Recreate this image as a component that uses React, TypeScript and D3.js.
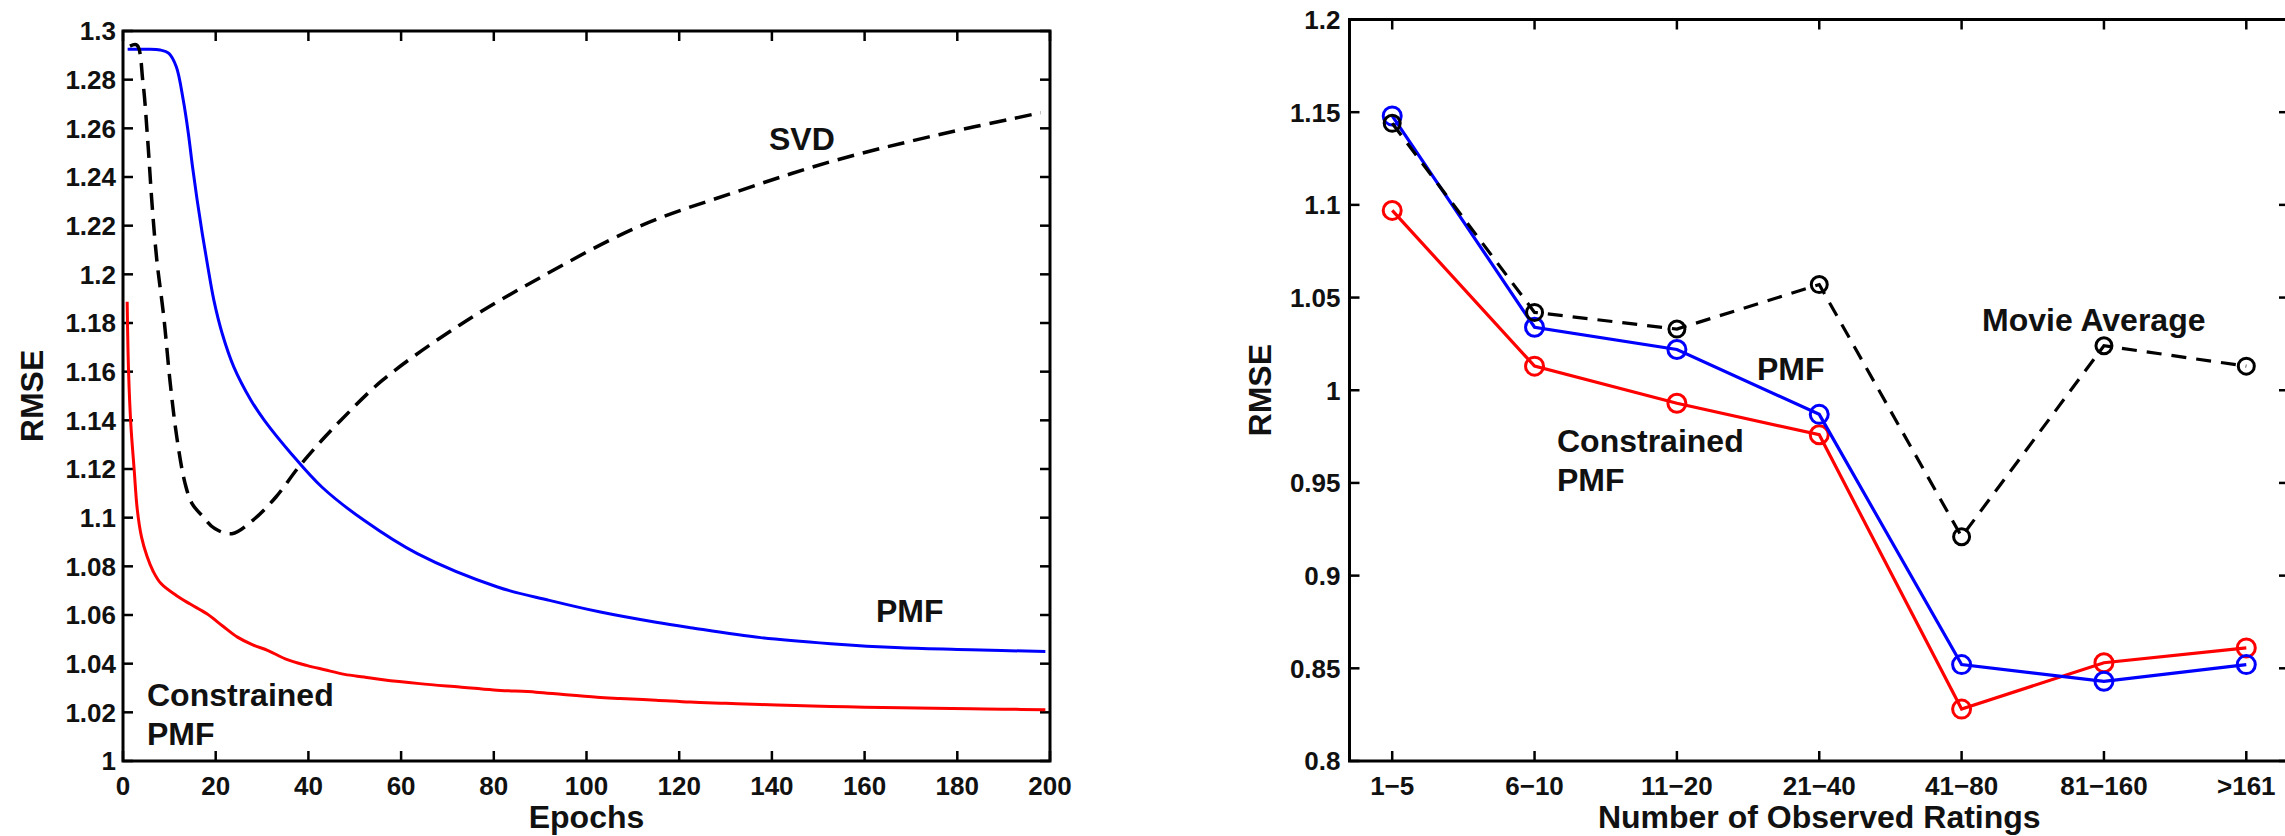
import React from "react";
import * as d3 from "d3";

// ---------- Data: left panel (RMSE vs Epochs) ----------
const pmfEpochs = [1, 5, 8, 9.9, 11.5, 13, 14.1, 15, 16, 17.1, 18.3, 19.6, 21.4, 23.9, 27.6, 30.5, 36.3, 42.9, 52, 63.5, 80.8, 92, 103, 115, 122.4, 137.6, 152.7, 167.8, 182.9, 199];
const pmfRmse = [1.2925, 1.2925, 1.2922, 1.2908, 1.2853, 1.2716, 1.2579, 1.2442, 1.2305, 1.2168, 1.2031, 1.1894, 1.1757, 1.162, 1.1483, 1.14, 1.1263, 1.1126, 1.0989, 1.0852, 1.0715, 1.066, 1.0612, 1.057, 1.0548, 1.0507, 1.0482, 1.0465, 1.0457, 1.045];

const svdEpochs = [1.5, 3, 4.3, 5.3, 6.3, 7.3, 8.8, 10.2, 11.6, 13.4, 14.9, 17.3, 19.8, 23.5, 28, 33, 37.9, 42.9, 47, 56, 72.6, 89, 111.1, 132.3, 152.7, 173.9, 198];
const svdRmse = [1.2938, 1.2942, 1.279, 1.256, 1.228, 1.2058, 1.1825, 1.1551, 1.1332, 1.114, 1.1058, 1.1003, 1.0955, 1.0934, 1.0989, 1.1085, 1.1208, 1.1318, 1.14, 1.1565, 1.1791, 1.1976, 1.2195, 1.2339, 1.2463, 1.2565, 1.2664];

const cpmfEpochs = [0.9, 1.2, 1.7, 2.4, 3.1, 4.0, 5.2, 6.5, 8.2, 11.5, 14.5, 18.1, 21.5, 24.7, 28, 31.3, 35, 39.6, 43.5, 47.8, 52, 56.1, 64, 72.6, 80, 89.1, 95, 102.3, 107.3, 115, 122.4, 130, 137.6, 145, 152.7, 160, 167.8, 175, 182.9, 190, 199];
const cpmfRmse = [1.1887, 1.16, 1.138, 1.12, 1.103, 1.092, 1.084, 1.078, 1.0729, 1.068, 1.0645, 1.0605, 1.0555, 1.0509, 1.0477, 1.0454, 1.042, 1.0393, 1.0375, 1.0356, 1.0345, 1.0334, 1.0318, 1.0304, 1.0292, 1.0283, 1.0273, 1.0262, 1.0257, 1.025, 1.0242, 1.0237, 1.0232, 1.0228, 1.0224, 1.0221, 1.0219, 1.0217, 1.0215, 1.0213, 1.0211];

const leftXTicks = [0, 20, 40, 60, 80, 100, 120, 140, 160, 180, 200];
const leftYTicks = [1, 1.02, 1.04, 1.06, 1.08, 1.1, 1.12, 1.14, 1.16, 1.18, 1.2, 1.22, 1.24, 1.26, 1.28, 1.3];

// ---------- Data: right panel (RMSE vs number of observed ratings) ----------
const categories = ["1\u22125", "6\u221210", "11\u221220", "21\u221240", "41\u221280", "81\u2212160", ">161"];
const pmfByCount = [1.148, 1.034, 1.022, 0.987, 0.852, 0.843, 0.852];
const cpmfByCount = [1.097, 1.013, 0.993, 0.976, 0.828, 0.853, 0.861];
const movieAvgByCount = [1.144, 1.042, 1.033, 1.057, 0.921, 1.024, 1.013];
const rightYTicks = [0.8, 0.85, 0.9, 0.95, 1, 1.05, 1.1, 1.15, 1.2];

// ---------- Layout ----------
const W = 2285;
const H = 836;
const FONT = "'Liberation Sans', Arial, Helvetica, sans-serif";
const TICK_FS = 26;
const LABEL_FS = 32;
const TICK_LEN = 10;
const BLUE = "#0000ff";
const RED = "#ff0000";
const BLACK = "#000000";

const fmt = (d: number) => String(+d.toFixed(2));

function LeftPanel() {
  const x = d3.scaleLinear().domain([0, 200]).range([123, 1050]);
  const y = d3.scaleLinear().domain([1, 1.3]).range([761, 31]);
  const [x0, x1] = x.range();
  const [y0, y1] = y.range();
  const mk = (xs: number[], ys: number[]) =>
    d3
      .line<number>()
      .x((_, i) => x(xs[i]))
      .y((d) => y(d))
      .curve(d3.curveCatmullRom.alpha(0.5))(ys) as string;

  return (
    <g>
      {leftXTicks.map((t) => (
        <g key={"xt" + t}>
          <line x1={x(t)} x2={x(t)} y1={y0} y2={y0 - TICK_LEN} stroke={BLACK} strokeWidth={2.5} />
          <line x1={x(t)} x2={x(t)} y1={y1} y2={y1 + TICK_LEN} stroke={BLACK} strokeWidth={2.5} />
          <text x={x(t)} y={795} textAnchor="middle" fontSize={TICK_FS} fontWeight="bold" fontFamily={FONT} fill="#111">
            {t}
          </text>
        </g>
      ))}
      {leftYTicks.map((t) => (
        <g key={"yt" + t}>
          <line x1={x0} x2={x0 + TICK_LEN} y1={y(t)} y2={y(t)} stroke={BLACK} strokeWidth={2.5} />
          <line x1={x1} x2={x1 - TICK_LEN} y1={y(t)} y2={y(t)} stroke={BLACK} strokeWidth={2.5} />
          <text x={x0 - 7} y={y(t)} dy="0.36em" textAnchor="end" fontSize={TICK_FS} fontWeight="bold" fontFamily={FONT} fill="#111">
            {fmt(t)}
          </text>
        </g>
      ))}
      <path d={mk(pmfEpochs, pmfRmse)} fill="none" stroke={BLUE} strokeWidth={3} />
      <path d={mk(cpmfEpochs, cpmfRmse)} fill="none" stroke={RED} strokeWidth={3} />
      <path d={mk(svdEpochs, svdRmse)} fill="none" stroke={BLACK} strokeWidth={3.5} strokeDasharray="17 9" />
      <rect x={x0} y={y1} width={x1 - x0} height={y0 - y1} fill="none" stroke={BLACK} strokeWidth={3} />
      <g fontSize={LABEL_FS} fontWeight="bold" fontFamily={FONT} fill="#111">
        <text x={769} y={150}>SVD</text>
        <text x={876} y={622}>PMF</text>
        <text x={147} y={706}>Constrained</text>
        <text x={147} y={745}>PMF</text>
        <text x={(x0 + x1) / 2} y={828} textAnchor="middle">Epochs</text>
        <text transform={`translate(43,${(y0 + y1) / 2}) rotate(-90)`} textAnchor="middle">RMSE</text>
      </g>
    </g>
  );
}

function RightPanel() {
  const x = d3.scaleLinear().domain([0.7, 7.3]).range([1349.5, 2289]);
  const y = d3.scaleLinear().domain([0.8, 1.2]).range([761, 19.5]);
  const [x0, x1] = x.range();
  const [y0, y1] = y.range();
  const idx = categories.map((_, i) => i + 1);
  const mk = (ys: number[]) =>
    d3
      .line<number>()
      .x((_, i) => x(idx[i]))
      .y((d) => y(d))(ys) as string;

  const series = [
    { vals: cpmfByCount, color: RED, dash: undefined as string | undefined, r: 9 },
    { vals: pmfByCount, color: BLUE, dash: undefined as string | undefined, r: 9 },
    { vals: movieAvgByCount, color: BLACK, dash: "15 10", r: 8 },
  ];

  return (
    <g>
      {idx.map((p, i) => (
        <g key={"cx" + p}>
          <line x1={x(p)} x2={x(p)} y1={y0} y2={y0 - TICK_LEN} stroke={BLACK} strokeWidth={2.5} />
          <line x1={x(p)} x2={x(p)} y1={y1} y2={y1 + TICK_LEN} stroke={BLACK} strokeWidth={2.5} />
          <text x={x(p)} y={795} textAnchor="middle" fontSize={TICK_FS} fontWeight="bold" fontFamily={FONT} fill="#111">
            {categories[i]}
          </text>
        </g>
      ))}
      {rightYTicks.map((t) => (
        <g key={"ry" + t}>
          <line x1={x0} x2={x0 + TICK_LEN} y1={y(t)} y2={y(t)} stroke={BLACK} strokeWidth={2.5} />
          <line x1={x1} x2={x1 - TICK_LEN} y1={y(t)} y2={y(t)} stroke={BLACK} strokeWidth={2.5} />
          <text x={x0 - 9} y={y(t)} dy="0.36em" textAnchor="end" fontSize={TICK_FS} fontWeight="bold" fontFamily={FONT} fill="#111">
            {fmt(t)}
          </text>
        </g>
      ))}
      {series.map((s, si) => (
        <g key={"s" + si}>
          <path d={mk(s.vals)} fill="none" stroke={s.color} strokeWidth={3.2} strokeDasharray={s.dash} />
          {s.vals.map((v, i) => (
            <circle key={i} cx={x(idx[i])} cy={y(v)} r={s.r} fill="none" stroke={s.color} strokeWidth={3} />
          ))}
        </g>
      ))}
      <rect x={x0} y={y1} width={x1 - x0} height={y0 - y1} fill="none" stroke={BLACK} strokeWidth={3} />
      <g fontSize={LABEL_FS} fontWeight="bold" fontFamily={FONT} fill="#111">
        <text x={1757} y={380}>PMF</text>
        <text x={1982} y={331}>Movie Average</text>
        <text x={1557} y={452}>Constrained</text>
        <text x={1557} y={491}>PMF</text>
        <text x={(x0 + x1) / 2} y={828} textAnchor="middle">Number of Observed Ratings</text>
        <text transform={`translate(1271,${(y0 + y1) / 2}) rotate(-90)`} textAnchor="middle">RMSE</text>
      </g>
    </g>
  );
}

export default function App() {
  return (
    <svg
      width={W}
      height={H}
      viewBox={`0 0 ${W} ${H}`}
      style={{ position: "absolute", left: 0, top: 0, display: "block", background: "#fff" }}
    >
      <rect x={0} y={0} width={W} height={H} fill="#fff" />
      <LeftPanel />
      <RightPanel />
    </svg>
  );
}
